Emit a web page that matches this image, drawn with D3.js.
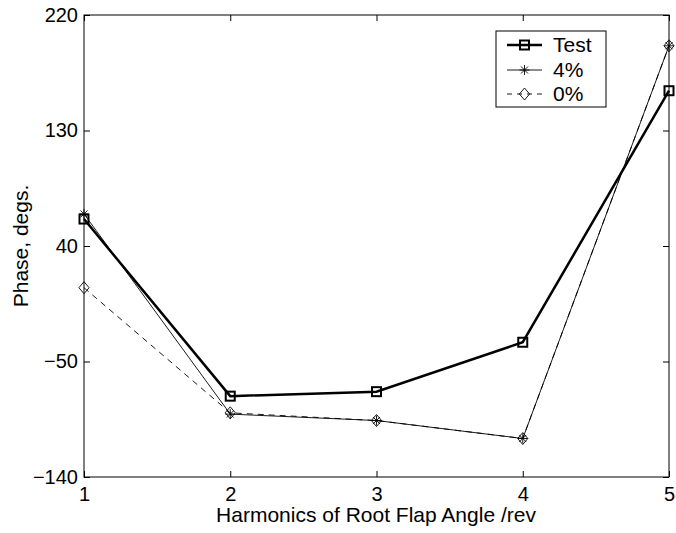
<!DOCTYPE html>
<html>
<head>
<meta charset="utf-8">
<script src="https://cdn.jsdelivr.net/npm/d3@7"></script>
<style>
  html, body { margin: 0; padding: 0; background: #fff; }
  text { font-family: "Liberation Sans", Arial, sans-serif; fill: #000; }
</style>
</head>
<body>
<svg id="chart" width="676" height="533"></svg>
<script>
// Harmonic numbers (per rev)
const harmonics = [1, 2, 3, 4, 5];
// Phase of root flap angle, degrees
const testPhase = [61, -77, -73.5, -35, 161];
const pct4Phase = [65, -91, -96, -110, 196];
const pct0Phase = [7.5, -90, -96, -110, 196];
const xTicks = [1, 2, 3, 4, 5];
const yTicks = [-140, -50, 40, 130, 220];

const svg = d3.select("#chart");
const m = { left: 84, right: 669, top: 15, bottom: 477 };

const x = d3.scaleLinear().domain([1, 5]).range([m.left, m.right]);
const y = d3.scaleLinear().domain([-140, 220]).range([m.bottom, m.top]);

// Frame
svg.append("rect")
  .attr("x", m.left).attr("y", m.top)
  .attr("width", m.right - m.left).attr("height", m.bottom - m.top)
  .attr("fill", "none").attr("stroke", "#000").attr("stroke-width", 1);

// Axes with inward ticks on all four sides
const tickLen = 6;
const gB = svg.append("g").attr("transform", `translate(0,${m.bottom})`)
  .call(d3.axisBottom(x).tickValues(xTicks).tickSize(-tickLen).tickPadding(10).tickFormat(d3.format("d")));
const gT = svg.append("g").attr("transform", `translate(0,${m.top})`)
  .call(d3.axisTop(x).tickValues(xTicks).tickSize(-tickLen).tickFormat(""));
const gL = svg.append("g").attr("transform", `translate(${m.left},0)`)
  .call(d3.axisLeft(y).tickValues(yTicks).tickSize(-tickLen).tickPadding(6).tickFormat(d3.format("d")));
const gR = svg.append("g").attr("transform", `translate(${m.right},0)`)
  .call(d3.axisRight(y).tickValues(yTicks).tickSize(-tickLen).tickFormat(""));
[gB, gT, gL, gR].forEach(g => {
  g.select(".domain").remove();
  g.selectAll("line").attr("stroke", "#000");
  g.selectAll("text").attr("font-size", null).style("font-size", "20px")
    .attr("font-family", "Liberation Sans, Arial, sans-serif");
});
gB.attr("font-size", null);
gL.attr("font-size", null);
gL.selectAll("text").text(d => d < 0 ? "\u2212" + Math.abs(d) : d);

// Axis titles
svg.append("text").attr("x", 376).attr("y", 522)
  .attr("text-anchor", "middle").style("font-size", "21px")
  .text("Harmonics of Root Flap Angle /rev");
svg.append("text")
  .attr("transform", `translate(28,${(m.top + m.bottom) / 2}) rotate(-90)`)
  .attr("text-anchor", "middle").style("font-size", "21px")
  .text("Phase, degs.");

const line = vals => d3.line().x((d, i) => x(harmonics[i])).y(d => y(d))(vals);

// Marker shapes
function square(g, cx, cy) {
  g.append("rect").attr("x", cx - 4.5).attr("y", cy - 4.5).attr("width", 9).attr("height", 9)
    .attr("fill", "none").attr("stroke", "#000").attr("stroke-width", 2);
}
function star(g, cx, cy) {
  const r = 5;
  const p = g.append("g").attr("stroke", "#000").attr("stroke-width", 0.9);
  p.append("line").attr("x1", cx).attr("x2", cx).attr("y1", cy - r).attr("y2", cy + r);
  p.append("line").attr("x1", cx - r).attr("x2", cx + r).attr("y1", cy).attr("y2", cy);
  p.append("line").attr("x1", cx - r * 0.7).attr("x2", cx + r * 0.7).attr("y1", cy - r * 0.7).attr("y2", cy + r * 0.7);
  p.append("line").attr("x1", cx - r * 0.7).attr("x2", cx + r * 0.7).attr("y1", cy + r * 0.7).attr("y2", cy - r * 0.7);
}
function diamond(g, cx, cy) {
  const r = 6;
  g.append("path").attr("d", `M${cx},${cy - r}L${cx + r * 0.85},${cy}L${cx},${cy + r}L${cx - r * 0.85},${cy}Z`)
    .attr("fill", "none").attr("stroke", "#000").attr("stroke-width", 0.9);
}

const plot = svg.append("g");
// 0% (dashed)
plot.append("path").attr("d", line(pct0Phase)).attr("fill", "none")
  .attr("stroke", "#000").attr("stroke-width", 0.9).attr("stroke-dasharray", "6,5");
pct0Phase.forEach((v, i) => diamond(plot, x(harmonics[i]), y(v)));
// 4%
plot.append("path").attr("d", line(pct4Phase)).attr("fill", "none")
  .attr("stroke", "#000").attr("stroke-width", 0.9);
pct4Phase.forEach((v, i) => star(plot, x(harmonics[i]), y(v)));
// Test
plot.append("path").attr("d", line(testPhase)).attr("fill", "none")
  .attr("stroke", "#000").attr("stroke-width", 2.5).attr("stroke-linejoin", "miter");
testPhase.forEach((v, i) => square(plot, x(harmonics[i]), y(v)));

// Legend
const leg = svg.append("g");
leg.append("rect").attr("x", 496).attr("y", 31).attr("width", 110).attr("height", 76)
  .attr("fill", "#fff").attr("stroke", "#000").attr("stroke-width", 1);
const entries = [
  { label: "Test", y: 45, width: 2.5, dash: null, mark: square },
  { label: "4%", y: 70, width: 0.9, dash: null, mark: star },
  { label: "0%", y: 94, width: 0.9, dash: "5,5", mark: diamond }
];
entries.forEach(e => {
  leg.append("line").attr("x1", 507).attr("x2", 542).attr("y1", e.y).attr("y2", e.y)
    .attr("stroke", "#000").attr("stroke-width", e.width).attr("stroke-dasharray", e.dash);
  e.mark(leg, 524.5, e.y);
  leg.append("text").attr("x", 553).attr("y", e.y + 7).style("font-size", "21px").text(e.label);
});
</script>
</body>
</html>
